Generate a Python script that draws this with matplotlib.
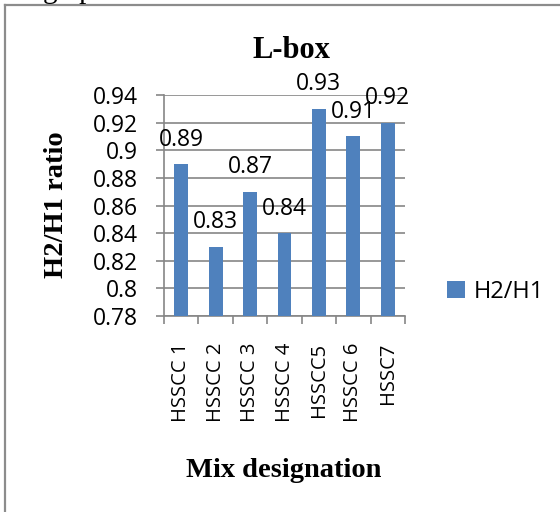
import matplotlib
matplotlib.use("Agg")
import matplotlib.pyplot as plt
from matplotlib.lines import Line2D

categories = ["HSSCC 1", "HSSCC 2", "HSSCC 3", "HSSCC 4", "HSSCC5", "HSSCC 6", "HSSC7"]
values = [0.89, 0.83, 0.87, 0.84, 0.93, 0.91, 0.92]
series_name = "H2/H1"
yticks = [0.78, 0.80, 0.82, 0.84, 0.86, 0.88, 0.90, 0.92, 0.94]
ytick_labels = ["0.78", "0.8", "0.82", "0.84", "0.86", "0.88", "0.9", "0.92", "0.94"]
title = "L-box"
xlabel = "Mix designation"
ylabel = "H2/H1 ratio"

W, H = 560, 512
fig = plt.figure(figsize=(W / 100, H / 100), dpi=100)
fig.patch.set_facecolor("white")

sans = ["Open Sans", "DejaVu Sans"]
serif = ["Liberation Serif", "DejaVu Serif"]
grey = "#868686"
blue = "#4F81BD"

ax = fig.add_axes([164 / W, 1 - 316 / H, (405 - 164) / W, (316 - 95) / H])

x = list(range(len(categories)))
bars = ax.bar(x, values, width=0.4, color=blue, label=series_name, zorder=3)

ax.set_ylim(0.78, 0.94)
ax.set_xlim(-0.5, len(categories) - 0.5)

ax.set_yticks(yticks)
ax.set_yticklabels(ytick_labels, family=sans, fontsize=16.5)
ax.yaxis.grid(True, color=grey, linewidth=1.2, zorder=0)
ax.tick_params(axis="y", direction="out", length=5.5, width=1.2, color=grey, pad=13)

# category boundaries as major ticks, labels on minor ticks
ax.set_xticks([i - 0.5 for i in range(len(categories) + 1)])
ax.set_xticklabels([])
ax.set_xticks(x, minor=True)
ax.set_xticklabels(categories, minor=True, rotation=90, family=sans, fontsize=14.5,
                   va="top", ha="center")
ax.tick_params(axis="x", which="major", direction="out", length=6, width=1.2, color=grey)
ax.tick_params(axis="x", which="minor", length=0, pad=19)

for side in ["top", "right"]:
    ax.spines[side].set_visible(False)
for side in ["left", "bottom"]:
    ax.spines[side].set_color(grey)
    ax.spines[side].set_linewidth(1.2)

ax.bar_label(bars, labels=[f"{v:g}" for v in values], padding=9,
             family=sans, fontsize=16.5, zorder=4)

fig.text(291 / W, 1 - 58 / H, title, family=serif, fontweight="bold", fontsize=22,
         ha="center", va="baseline")
fig.text(284 / W, 1 - 477 / H, xlabel, family=serif, fontweight="bold", fontsize=20.5,
         ha="center", va="baseline")
fig.text(57 / W, 1 - 205 / H, ylabel, family=serif, fontweight="bold", fontsize=20.5,
         ha="center", va="center", rotation=90)

fig.legend(handles=[bars], labels=[series_name], loc="center left",
           bbox_to_anchor=(447 / W, 1 - 292 / H), frameon=False,
           prop={"family": sans, "size": 17}, handlelength=0.75, handleheight=0.75,
           handletextpad=0.4, borderpad=0, borderaxespad=0)

# frame of the embedded chart and clipped text above it
fig.add_artist(Line2D([5 / W, 5 / W], [0, 1 - 5 / H], transform=fig.transFigure,
                      color="#8c8c8c", linewidth=1.6))
fig.add_artist(Line2D([5 / W, 1], [1 - 5 / H, 1 - 5 / H], transform=fig.transFigure,
                      color="#8c8c8c", linewidth=1.6))
fig.text(43 / W, 1 + 2 / H, "graph", family=serif, fontsize=21, ha="left", va="baseline")

fig.savefig("out.png", dpi=100, facecolor="white")
